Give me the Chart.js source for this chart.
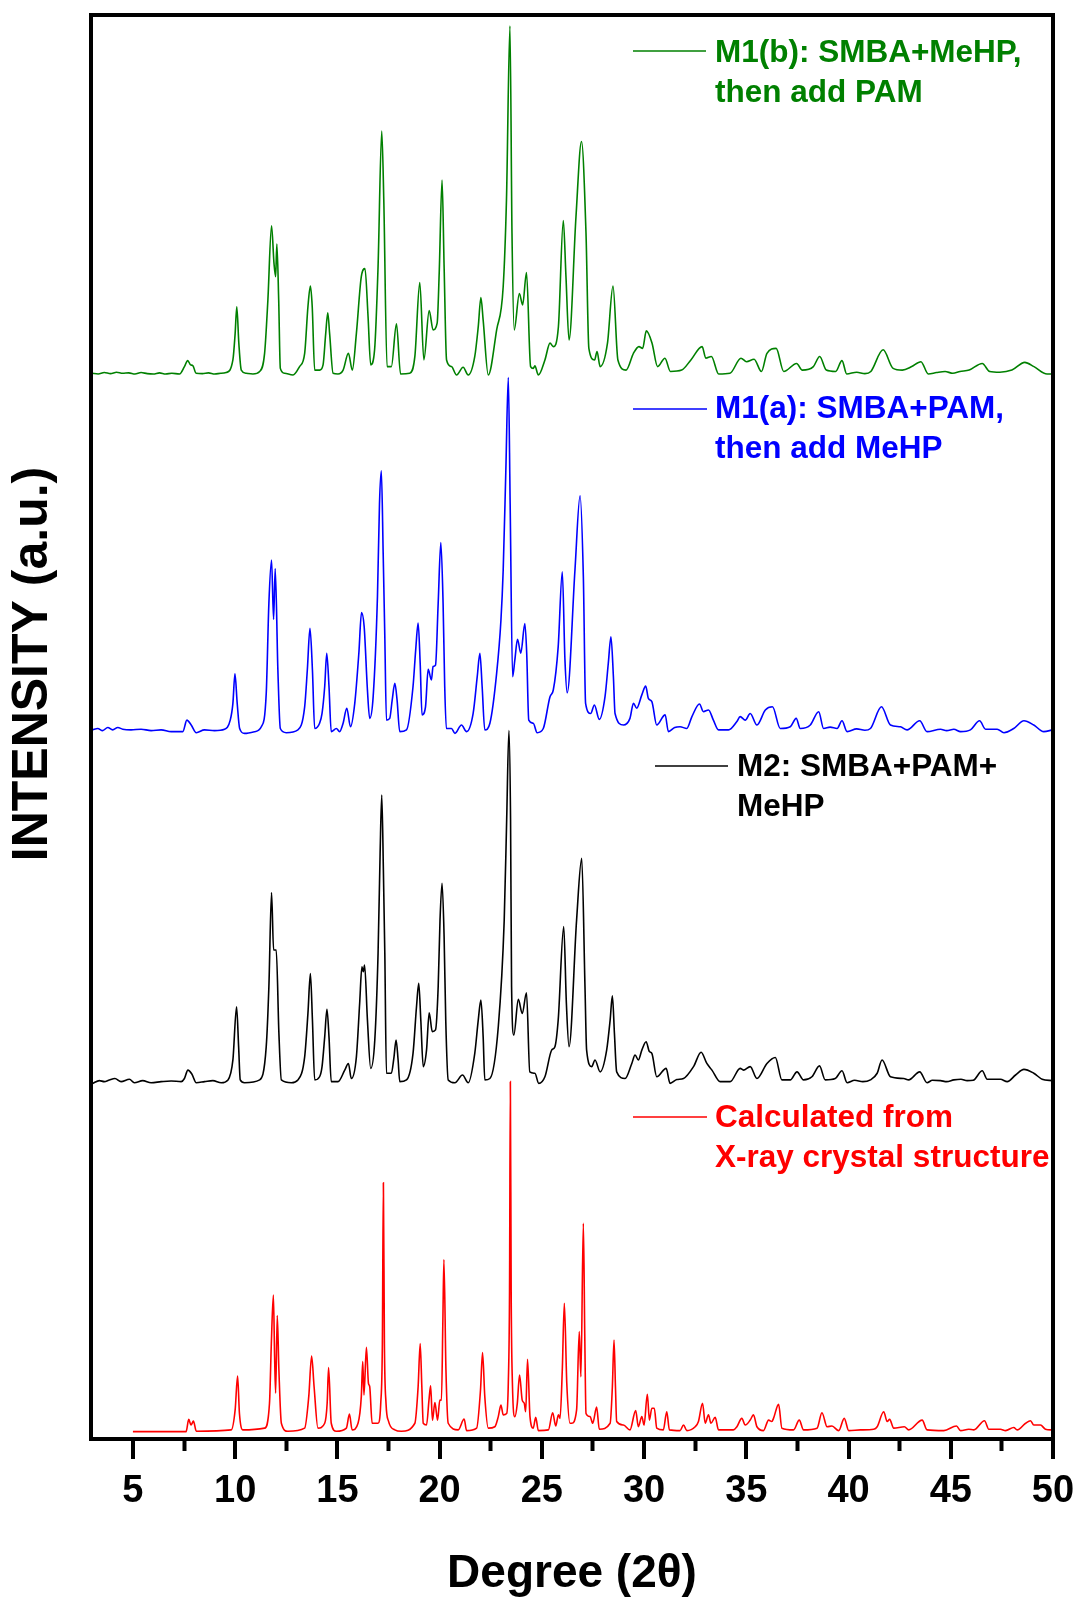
<!DOCTYPE html>
<html>
<head>
<meta charset="utf-8">
<title>XRD patterns</title>
<script src="https://cdn.jsdelivr.net/npm/chart.js@4.4.1/dist/chart.umd.min.js"></script>
<style>
  html, body { margin: 0; padding: 0; background: #fff; }
  #wrap { width: 1081px; height: 1598px; position: relative; }
</style>
</head>
<body>
<div id="wrap"><canvas id="xrdChart"></canvas></div>
<script>
// 2-theta ticks
const majorTicks = [5, 10, 15, 20, 25, 30, 35, 40, 45, 50];
const minorTicks = [7.5, 12.5, 17.5, 22.5, 27.5, 32.5, 37.5, 42.5, 47.5];

// vertical shift of each pattern (intensity units), bottom to top
const offsets = [2.1, 101.9, 202.4, 304.3];

// [2theta, relative intensity]
const calcPattern = [
  [5.0,0],[7.6,0],[7.73,3.5],[7.84,1.9],[7.96,3.0],[8.1,0.1],[9.81,0.5],[10.0,6.2],[10.12,15.9],[10.21,5.2],
  [10.38,0.5],[11.44,1.0],[11.68,8.1],[11.77,25.2],[11.87,39.0],[11.93,21.4],[11.98,11.0],[12.06,33.2],[12.14,17.6],[12.26,2.4],
  [12.58,0.1],[13.4,1.0],[13.6,10.0],[13.74,21.6],[13.86,12.9],[14.05,1.0],[14.38,2.4],[14.5,8.1],[14.57,18.3],[14.7,2.4],
  [14.95,0.1],[15.44,1.0],[15.59,5.0],[15.72,0.5],[16.01,2.4],[16.17,10.0],[16.24,20.0],[16.3,10.5],[16.42,24.1],[16.52,13.8],
  [16.58,12.9],[16.7,2.4],[16.99,2.4],[17.12,8.0],[17.2,25.0],[17.25,71.1],[17.3,25.0],[17.38,8.0],[17.5,3.0],[17.81,0.5],[18.13,0.1],[18.79,2.4],
  [18.95,12.9],[19.05,25.2],[19.13,12.9],[19.2,2.4],[19.36,1.9],[19.48,9.0],[19.56,13.1],[19.65,3.3],[19.77,8.3],[19.9,3.3],
  [20.01,9.0],[20.09,9.0],[20.16,31.9],[20.21,49.2],[20.31,17.6],[20.42,2.4],[20.91,0.5],[21.2,3.6],[21.32,0.3],[21.81,1.0],
  [22.0,11.9],[22.1,22.6],[22.21,10.0],[22.38,1.0],[22.7,1.4],[22.87,4.3],[23.0,7.6],[23.11,4.8],[23.28,5.2],[23.36,14.0],[23.42,40.0],
  [23.46,100],[23.5,40.0],[23.56,14.0],[23.68,4.3],[23.8,8.1],[23.91,16.2],[24.04,9.0],[24.14,8.1],[24.21,5.7],[24.3,20.7],[24.42,4.3],
  [24.58,1.0],[24.7,4.1],[24.83,0.3],[25.32,0.5],[25.53,5.4],[25.68,1.6],[25.81,4.8],[25.89,3.8],[26.0,17.6],[26.1,36.7],
  [26.22,13.8],[26.38,2.4],[26.46,2.4],[26.7,6.2],[26.83,28.6],[26.91,15.7],[27.03,59.5],[27.1,27.1],[27.16,5.2],[27.36,4.3],
  [27.49,2.4],[27.68,7.0],[27.81,0.7],[28.34,2.4],[28.45,12.9],[28.53,26.2],[28.6,12.9],[28.66,2.9],[28.99,1.9],[29.31,0.5],
  [29.59,6.0],[29.72,1.4],[29.89,4.3],[30.0,1.9],[30.16,10.7],[30.26,3.3],[30.38,6.7],[30.5,6.7],[30.62,1.0],[30.94,0.5],
  [31.11,5.7],[31.24,0.5],[31.76,0.3],[31.93,1.9],[32.09,0.3],[32.5,1.4],[32.66,2.9],[32.86,8.1],[32.99,2.4],[33.15,4.8],
  [33.27,2.4],[33.48,4.1],[33.64,0.5],[34.37,0.5],[34.54,1.4],[34.78,3.8],[34.95,1.9],[35.19,3.3],[35.35,4.8],[35.52,1.4],
  [35.84,0.3],[36.09,3.3],[36.25,2.9],[36.33,3.8],[36.58,7.8],[36.74,1.0],[37.31,0.5],[37.59,3.3],[37.8,0.5],[38.46,1.0],
  [38.7,5.4],[38.95,1.4],[39.19,1.6],[39.52,0.3],[39.79,3.8],[40.01,0.3],[40.58,0.5],[41.23,0.7],[41.4,1.4],[41.72,5.7],
  [41.89,2.9],[42.01,3.5],[42.21,1.0],[42.73,1.4],[42.94,0.5],[43.6,3.3],[43.84,0.5],[44.66,0.3],[45.28,1.6],[45.48,0.3],
  [45.88,0.7],[46.13,0.5],[46.65,3.1],[46.86,0.7],[47.43,0.7],[47.68,0.3],[48.08,1.2],[48.25,0.5],[48.66,2.4],[48.9,3.1],
  [49.06,1.9],[49.39,1.9],[49.63,0.7],[49.97,0.5]
];

const m2Pattern = [
  [3.03,-0.3],[3.36,0.5],[3.6,0.2],[3.85,0.7],[4.12,1.1],[4.42,0.2],[4.83,0.9],[5.07,-0.1],[5.48,0.5],[5.89,-0.1],
  [6.38,0.2],[6.87,0.4],[7.36,0.2],[7.52,1.1],[7.69,3.5],[7.88,2.4],[8.1,-0.1],[8.5,0.2],[8.91,0.5],[9.32,-0.1],
  [9.65,0.7],[9.89,6.4],[10.07,21.6],[10.17,10.2],[10.25,0.7],[10.46,-0.1],[11.2,0.7],[11.52,10.2],[11.65,27.3],[11.78,54.2],
  [11.88,37.8],[12.01,37.8],[12.14,14.0],[12.26,0.7],[12.75,-0.1],[13.07,0.7],[13.4,7.3],[13.56,19.7],[13.68,31.1],[13.78,17.8],
  [13.89,0.7],[14.13,1.6],[14.25,4.5],[14.38,13.0],[14.49,20.9],[14.59,13.0],[14.7,0.2],[15.03,0.2],[15.36,3.5],[15.54,5.4],
  [15.68,1.1],[15.93,7.3],[16.09,22.6],[16.2,33.0],[16.27,31.6],[16.33,33.5],[16.47,17.8],[16.63,4.0],[16.83,12.1],[16.99,36.9],
  [17.09,65.4],[17.17,82.1],[17.25,60.7],[17.32,36.9],[17.4,2.6],[17.64,2.6],[17.77,7.3],[17.87,12.1],[17.97,6.4],[18.05,0.2],
  [18.38,0.7],[18.7,8.3],[18.87,21.6],[18.98,28.3],[19.08,17.8],[19.2,4.5],[19.36,9.2],[19.49,19.9],[19.64,14.5],[19.8,15.0],
  [19.93,27.3],[20.02,46.4],[20.12,56.9],[20.22,41.6],[20.3,17.8],[20.42,0.7],[20.75,-0.1],[21.12,2.1],[21.4,-0.1],[21.72,8.3],
  [21.89,17.8],[22.02,23.5],[22.13,13.0],[22.21,0.7],[22.46,1.1],[22.87,15.9],[23.16,46.4],[23.28,75.0],[23.39,100.5],[23.47,75.0],
  [23.52,27.3],[23.63,13.5],[23.85,23.7],[24.04,19.7],[24.25,25.6],[24.41,3.0],[24.66,2.6],[24.85,-0.3],[25.15,1.6],[25.48,9.2],
  [25.64,10.2],[25.8,17.8],[26.07,44.5],[26.2,22.6],[26.33,10.2],[26.7,46.4],[26.95,64.0],[27.11,27.3],[27.19,9.2],[27.44,4.5],
  [27.6,6.4],[27.85,3.0],[28.17,9.2],[28.34,17.8],[28.45,24.7],[28.55,14.0],[28.66,3.0],[29.07,1.1],[29.4,5.4],[29.56,7.8],
  [29.72,6.4],[29.89,9.2],[30.1,11.6],[30.26,8.8],[30.38,8.3],[30.62,1.6],[31.08,4.0],[31.27,-0.3],[31.6,0.8],[31.93,1.1],
  [32.42,4.5],[32.79,8.6],[33.07,5.4],[33.32,3.5],[33.72,0.2],[34.21,0.2],[34.7,4.0],[34.86,3.5],[35.19,4.5],[35.52,1.1],
  [36.01,5.4],[36.42,7.1],[36.74,0.7],[37.15,0.7],[37.48,3.0],[37.8,0.7],[38.21,1.6],[38.58,4.7],[38.86,0.7],[39.35,1.1],
  [39.68,3.3],[39.93,-0.1],[40.3,0.6],[40.7,0.2],[41.07,0.7],[41.4,2.6],[41.64,6.4],[42.05,1.6],[42.7,1.1],[42.94,0.7],
  [43.48,3.0],[43.84,-0.1],[44.1,0.6],[44.5,0.5],[44.8,0.2],[45.15,0.7],[45.5,0.9],[45.8,0.5],[46.1,0.6],[46.54,3.3],
  [46.78,0.9],[47.43,0.9],[47.76,0.2],[48.17,2.1],[48.58,3.7],[49.06,2.6],[49.47,0.9],[49.97,0.5]
];

const m1aPattern = [
  [3.03,0.2],[3.28,0.6],[3.52,0],[3.77,0.9],[4.01,0.2],[4.26,0.9],[4.5,0.4],[4.91,0.2],[5.4,0.4],[5.89,0],
  [6.38,0.2],[6.87,-0.3],[7.44,-0.3],[7.64,3.0],[7.85,1.6],[8.1,-0.6],[8.5,0.2],[8.99,0],[9.48,0.4],[9.76,3.0],
  [9.89,7.8],[9.99,16.2],[10.1,7.8],[10.22,0.6],[10.46,-0.8],[10.95,-0.3],[11.28,1.1],[11.52,10.6],[11.65,36.4],[11.78,48.7],
  [11.88,31.8],[11.96,46.3],[12.09,17.3],[12.21,0.6],[12.5,-0.6],[13.07,0.2],[13.4,6.8],[13.53,17.3],[13.66,29.2],[13.78,17.3],
  [13.89,0.6],[14.13,2.1],[14.25,4.9],[14.38,12.6],[14.48,22.1],[14.59,12.6],[14.7,-0.3],[14.95,0.6],[15.11,-0.3],[15.28,2.1],
  [15.46,6.4],[15.64,1.1],[15.85,7.8],[16.05,22.1],[16.18,33.7],[16.31,29.7],[16.47,11.6],[16.58,3.5],[16.75,9.7],[16.96,38.3],
  [17.06,64.9],[17.15,74.2],[17.24,50.6],[17.32,26.8],[17.4,3.0],[17.56,3.5],[17.68,8.7],[17.81,13.5],[17.92,8.7],[18.05,-0.3],
  [18.38,0.2],[18.7,12.6],[18.83,23.0],[18.95,30.7],[19.05,19.2],[19.14,4.5],[19.31,6.8],[19.44,17.5],[19.6,14.5],[19.68,18.3],
  [19.8,18.7],[19.93,36.4],[20.06,53.7],[20.17,36.4],[20.25,12.6],[20.33,0.6],[20.58,0.6],[20.75,-0.8],[21.07,1.6],[21.32,-0.3],
  [21.64,4.9],[21.84,15.4],[21.97,22.1],[22.08,12.6],[22.21,0.2],[22.46,2.1],[22.79,16.4],[23.0,31.6],[23.11,45.9],[23.24,74.5],
  [23.36,100.9],[23.45,64.9],[23.57,15.4],[23.68,20.2],[23.81,26.1],[23.97,22.1],[24.17,30.6],[24.26,22.1],[24.36,3.0],[24.58,2.1],
  [24.77,-0.6],[25.07,0.6],[25.4,9.7],[25.56,11.6],[25.8,24.0],[26.0,45.4],[26.13,20.2],[26.24,10.8],[26.62,45.9],[26.87,67.1],
  [27.03,44.0],[27.14,7.8],[27.39,4.9],[27.57,7.3],[27.81,3.2],[28.09,9.7],[28.25,19.2],[28.38,26.8],[28.5,15.4],[28.58,4.9],
  [28.99,1.6],[29.31,3.5],[29.48,7.8],[29.64,6.4],[29.89,10.2],[30.08,12.7],[30.21,9.2],[30.38,8.3],[30.62,1.6],[31.03,4.5],
  [31.19,-0.3],[31.5,0.9],[31.76,1.1],[32.09,0.6],[32.34,4.0],[32.71,7.6],[32.9,5.4],[33.15,5.9],[33.39,3.0],[33.64,0.2],
  [34.13,0.2],[34.54,2.6],[34.7,4.0],[34.95,3.0],[35.19,4.9],[35.52,1.6],[35.93,5.9],[36.28,6.8],[36.66,0.6],[37.15,1.1],
  [37.44,3.5],[37.64,0.6],[38.13,1.6],[38.54,5.4],[38.78,0.6],[39.1,1.0],[39.44,0.6],[39.68,2.8],[39.93,-0.3],[40.4,0.5],
  [40.8,0.1],[41.07,0.6],[41.61,6.8],[42.05,1.6],[42.54,1.1],[42.86,0.2],[43.48,2.8],[43.84,-0.3],[44.5,0.4],[44.8,0.0],
  [45.15,0.4],[45.48,-0.3],[45.96,0.2],[46.41,2.8],[46.7,0.4],[47.27,0.4],[47.6,-0.6],[48.08,0.6],[48.58,2.8],[49.06,1.6],
  [49.55,-0.3],[49.97,0.2]
];

const m1bPattern = [
  [3.0,0.2],[3.3,0],[3.6,0.4],[3.9,0.1],[4.2,0.5],[4.5,0.2],[4.8,0.3],[5.1,0],[5.4,0.4],[5.7,0.1],
  [6.0,0],[6.3,0.3],[6.6,0],[6.9,0.2],[7.28,0],[7.52,2.1],[7.68,3.8],[7.82,2.6],[7.93,2.4],[8.09,0.2],
  [8.4,0.1],[8.7,0.3],[9.0,0],[9.3,0.2],[9.56,0.4],[9.89,4.0],[10.0,11.6],[10.08,19.2],[10.18,8.8],[10.3,1.1],
  [10.54,0.2],[10.87,0],[11.2,0.7],[11.44,5.9],[11.6,21.0],[11.78,42.3],[11.9,31.6],[11.98,27.8],[12.04,37.1],[12.13,21.1],
  [12.21,1.6],[12.42,0.2],[12.83,-0.3],[13.15,2.1],[13.4,5.9],[13.56,19.2],[13.68,25.1],[13.77,19.2],[13.89,1.1],[14.13,1.1],
  [14.3,2.6],[14.43,11.6],[14.53,17.5],[14.62,11.6],[14.79,0.2],[15.03,0],[15.28,1.1],[15.54,5.9],[15.73,1.1],[15.93,11.6],
  [16.17,27.8],[16.35,30.1],[16.5,16.4],[16.63,2.6],[16.82,6.9],[16.99,30.7],[17.17,69.4],[17.27,49.7],[17.43,2.1],[17.64,2.1],
  [17.89,14.3],[18.09,0],[18.54,0.2],[18.79,5.0],[19.03,26.1],[19.23,4.0],[19.49,18.1],[19.68,12.6],[19.88,14.5],[19.98,28.8],
  [20.12,55.4],[20.22,30.7],[20.34,4.0],[20.58,2.1],[20.83,-0.3],[21.15,1.9],[21.4,-0.3],[21.72,5.0],[21.89,13.5],[22.02,21.8],
  [22.13,15.4],[22.38,-0.3],[22.79,12.6],[23.11,25.0],[23.27,49.7],[23.44,99.4],[23.54,40.2],[23.65,12.6],[23.9,23.0],[24.06,19.7],
  [24.25,29.0],[24.45,2.1],[24.58,1.6],[24.66,2.3],[24.83,-0.3],[25.15,4.0],[25.4,8.8],[25.56,7.8],[25.81,13.5],[26.05,43.8],
  [26.18,27.8],[26.33,9.7],[26.67,45.0],[26.94,66.4],[27.16,40.2],[27.3,7.3],[27.58,4.0],[27.7,6.4],[27.85,2.1],[28.21,8.8],
  [28.48,25.1],[28.72,4.0],[29.12,1.1],[29.48,5.9],[29.75,7.8],[29.93,7.3],[30.11,12.3],[30.39,8.8],[30.66,2.1],[31.02,4.5],
  [31.29,0.7],[31.84,1.1],[32.29,4.0],[32.84,7.8],[33.02,4.5],[33.29,5.0],[33.65,0],[34.2,0.2],[34.74,4.5],[35.01,3.5],
  [35.38,4.2],[35.74,0.7],[36.01,5.9],[36.46,7.3],[36.83,0.7],[37.46,3.0],[37.74,1.1],[38.28,2.1],[38.59,5.0],[38.91,1.1],
  [39.37,0.7],[39.68,3.8],[39.91,0],[40.4,0.5],[40.8,0.1],[41.09,0.7],[41.69,6.9],[42.18,1.6],[42.63,1.1],[43.09,2.1],
  [43.54,3.5],[43.9,0],[44.3,0.4],[44.72,0.7],[45.1,0.2],[45.45,0.7],[45.9,1.1],[46.54,3.0],[46.9,0.7],[47.4,0.5],
  [47.99,1.1],[48.62,3.3],[49.07,2.1],[49.71,0],[50.0,0]
];

const patterns = [calcPattern, m2Pattern, m1aPattern, m1bPattern];
const seriesLabels = [
  ['Calculated from', 'X-ray crystal structure'],
  ['M2: SMBA+PAM+', 'MeHP'],
  ['M1(a): SMBA+PAM,', 'then add MeHP'],
  ['M1(b): SMBA+MeHP,', 'then add PAM']
];
const seriesColors = ['#ff0000', '#000000', '#0000ff', '#008000'];

const FONT = '"Liberation Sans", Arial, Helvetica, sans-serif';
Chart.defaults.font.family = FONT;
Chart.defaults.color = '#000';

// where each in-plot label sits: key line x1..x2 at y, text starting at tx, first line at ty
const labelSpots = [
  { x1: 633, x2: 707, y: 1117, tx: 715, ty: 1118 },
  { x1: 655, x2: 728, y: 766, tx: 737, ty: 767 },
  { x1: 633, x2: 707, y: 409, tx: 715, ty: 409 },
  { x1: 633, x2: 706, y: 51, tx: 715, ty: 53 }
];

const panelText = {
  id: 'panelText',
  afterDraw(chart) {
    const { ctx } = chart;
    ctx.save();
    ctx.fillStyle = '#000';
    ctx.font = 'bold 50px ' + FONT;
    ctx.textAlign = 'center';
    ctx.textBaseline = 'middle';
    ctx.translate(33, 664);
    ctx.rotate(-Math.PI / 2);
    ctx.fillText('INTENSITY (a.u.)', 0, 0);
    ctx.restore();

    chart.data.datasets.forEach((ds, i) => {
      const s = labelSpots[i];
      ctx.save();
      ctx.strokeStyle = ds.borderColor;
      ctx.lineWidth = 1.5;
      ctx.beginPath();
      ctx.moveTo(s.x1, s.y);
      ctx.lineTo(s.x2, s.y);
      ctx.stroke();
      ctx.fillStyle = ds.borderColor;
      ctx.font = 'bold 31.5px ' + FONT;
      ctx.textAlign = 'left';
      ctx.textBaseline = 'middle';
      seriesLabels[i].forEach((line, j) => ctx.fillText(line, s.tx, s.ty + j * 40));
      ctx.restore();
    });
  }
};

const datasets = patterns.map((pat, i) => ({
  label: seriesLabels[i].join(' '),
  data: pat.map(([t, v]) => ({ x: t, y: offsets[i] + v })),
  borderColor: seriesColors[i],
  borderWidth: 1.6,
  pointRadius: 0,
  cubicInterpolationMode: 'monotone',
  fill: false,
  xAxisID: 'x',
  yAxisID: 'y'
}));

new Chart(document.getElementById('xrdChart'), {
  type: 'line',
  data: { datasets },
  options: {
    responsive: true,
    maintainAspectRatio: false,
    animation: false,
    layout: { padding: { left: 0, right: 28, top: 15, bottom: 0 } },
    plugins: { legend: { display: false }, tooltip: { enabled: false } },
    scales: {
      x: {
        type: 'linear', axis: 'x', position: 'bottom', min: 2.95, max: 50,
        afterBuildTicks: (scale) => { scale.ticks = majorTicks.map((v) => ({ value: v })); },
        afterFit: (scale) => { scale.height = 159; },
        grid: { display: true, drawOnChartArea: false, drawTicks: true, tickLength: 20, tickWidth: 4, tickColor: '#000', lineWidth: 4 },
        border: { display: true, width: 4, color: '#000', z: 1 },
        ticks: { font: { size: 38, weight: 'bold', lineHeight: 1.42 }, color: '#000', padding: 6, maxRotation: 0, autoSkip: false },
        title: { display: true, text: 'Degree (2θ)', color: '#000', font: { size: 46, weight: 'bold', lineHeight: 1 }, padding: { top: 0, bottom: 1 } }
      },
      y: {
        type: 'linear', axis: 'y', position: 'left', min: 0, max: 1424 / 3.5,
        afterFit: (scale) => { scale.width = 91; },
        grid: { display: false, drawTicks: false, lineWidth: 4 },
        border: { display: true, width: 4, color: '#000', z: 1 },
        ticks: { display: false }
      },
      xMinor: {
        type: 'linear', axis: 'x', position: { y: 0 }, min: 2.95, max: 50,
        afterBuildTicks: (scale) => { scale.ticks = minorTicks.map((v) => ({ value: v })); },
        grid: { display: true, drawOnChartArea: false, drawTicks: true, tickLength: 12, tickWidth: 4, tickColor: '#000' },
        border: { display: false },
        ticks: { display: false }
      },
      xTop: {
        type: 'linear', axis: 'x', position: 'top', min: 2.95, max: 50,
        afterFit: (scale) => { scale.height = 0; },
        grid: { display: false, drawTicks: false, lineWidth: 4 },
        border: { display: true, width: 4, color: '#000', z: 1 },
        ticks: { display: false }
      },
      yRight: {
        type: 'linear', axis: 'y', position: 'right', min: 0, max: 1424 / 3.5,
        afterFit: (scale) => { scale.width = 0; },
        grid: { display: false, drawTicks: false, lineWidth: 4 },
        border: { display: true, width: 4, color: '#000', z: 1 },
        ticks: { display: false }
      }
    }
  },
  plugins: [panelText]
});
</script>
</body>
</html>
